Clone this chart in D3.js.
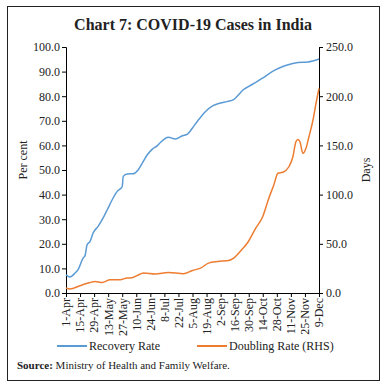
<!DOCTYPE html>
<html>
<head>
<meta charset="utf-8">
<script src="https://cdn.jsdelivr.net/npm/d3@7"></script>
<style>
  body { margin: 0; background: #fff; }
  svg { display: block; font-family: "Liberation Serif", serif; }
</style>
</head>
<body>
<svg id="chart" width="386" height="388"></svg>
<script>
// days counted from 1-Apr-2020
const recoveryDays = [0, 4, 9, 12, 17, 19, 21, 24, 27, 32, 37, 42, 46, 51, 56, 57, 61, 67, 72, 76, 81, 86, 91, 94, 102, 109, 116, 121, 126, 132, 139, 146, 152, 161, 167, 171, 176, 182, 189, 196, 202, 209, 216, 224, 231, 241, 252];
const recoveryRate = [7.4, 6.5, 8.1, 9.5, 14.2, 15.2, 19.6, 21, 24.4, 27.1, 30.5, 34.6, 37.9, 41.3, 43.3, 47.4, 48.4, 48.5, 50.1, 52.8, 56.2, 58.5, 59.9, 61.2, 63.3, 62.6, 63.9, 64.6, 67.1, 70.4, 73.8, 76.1, 77, 77.9, 78.6, 80.2, 82.4, 84, 85.6, 87.4, 89.1, 90.8, 92.1, 93.1, 93.7, 93.9, 95.1];

const doublingDays = [0, 4, 14, 24, 29, 36, 44, 54, 61, 64, 74, 77, 89, 102, 117, 126, 134, 142, 151, 162, 167, 175, 181, 189, 196, 202, 207, 211, 216, 222, 226, 229, 231, 233, 236, 239, 242, 246, 249, 252];
const doublingRate = [5.1, 4.1, 7.4, 10.7, 11.8, 10.7, 13.5, 13.5, 15.2, 15.2, 19.3, 20.3, 19.3, 20.9, 19.6, 22.9, 25.3, 30.4, 32, 33, 35.5, 44, 51.3, 65.9, 77.7, 96.3, 109.8, 121.7, 122.7, 128.3, 138.5, 153.7, 156.1, 153.7, 141.9, 147, 158.8, 175.7, 192.6, 207.8];

const xTickLabels = ['1-Apr', '15-Apr', '29-Apr', '13-May', '27-May', '10-Jun', '24-Jun', '8-Jul', '22-Jul', '5-Aug', '19-Aug', '2-Sep', '16-Sep', '30-Sep', '14-Oct', '28-Oct', '11-Nov', '25-Nov', '9-Dec'];
const leftTicks = [0, 10, 20, 30, 40, 50, 60, 70, 80, 90, 100];
const rightTicks = [0, 50, 100, 150, 200, 250];

const blue = '#5b9bd5';
const orange = '#ed7d31';

const svg = d3.select('#chart');

// frame
svg.append('rect')
  .attr('x', 7.5).attr('y', 6.5)
  .attr('width', 372).attr('height', 374)
  .attr('fill', 'none').attr('stroke', '#222').attr('stroke-width', 1);

svg.append('text')
  .attr('x', 193).attr('y', 30)
  .attr('text-anchor', 'middle')
  .attr('font-size', 16).attr('font-weight', 'bold')
  .attr('fill', '#222')
  .text('Chart 7: COVID-19 Cases in India');

const plotLeft = 66, plotRight = 319, plotTop = 47, plotBottom = 293;

const x = d3.scaleLinear().domain([0, 252]).range([plotLeft, plotRight]);
const yL = d3.scaleLinear().domain([0, 100]).range([plotBottom, plotTop]);
const yR = d3.scaleLinear().domain([0, 250]).range([plotBottom, plotTop]);

const axisStyle = g => {
  g.selectAll('path, line').attr('stroke', '#000');
  g.selectAll('text').attr('fill', '#222').attr('font-size', 12).attr('font-family', '"Liberation Serif", serif');
};

svg.append('g')
  .attr('transform', `translate(${plotLeft},0)`)
  .call(d3.axisLeft(yL).tickValues(leftTicks).tickFormat(d3.format('.1f')).tickSize(4).tickSizeOuter(4).tickPadding(2))
  .call(axisStyle);

svg.append('g')
  .attr('transform', `translate(${plotRight},0)`)
  .call(d3.axisRight(yR).tickValues(rightTicks).tickFormat(d3.format('.1f')).tickSize(4).tickSizeOuter(4).tickPadding(3))
  .call(axisStyle);

const xAxis = svg.append('g')
  .attr('transform', `translate(0,${plotBottom})`)
  .call(d3.axisBottom(x).tickValues(d3.range(0, 253, 14)).tickFormat((d, i) => xTickLabels[i]).tickSize(4).tickSizeOuter(0))
  .call(axisStyle);
xAxis.selectAll('text')
  .attr('transform', 'rotate(-90)')
  .attr('text-anchor', 'end')
  .attr('dy', '0.32em')
  .attr('x', -5).attr('y', 0);

svg.append('text')
  .attr('transform', 'translate(27,160) rotate(-90)')
  .attr('text-anchor', 'middle').attr('font-size', 12).attr('fill', '#222')
  .text('Per cent');

svg.append('text')
  .attr('transform', 'translate(370,170) rotate(-90)')
  .attr('text-anchor', 'middle').attr('font-size', 12).attr('fill', '#222')
  .text('Days');

svg.append('path')
  .datum(d3.zip(recoveryDays, recoveryRate))
  .attr('fill', 'none').attr('stroke', blue).attr('stroke-width', 1.5)
  .attr('d', d3.line().x(d => x(d[0])).y(d => yL(d[1])).curve(d3.curveMonotoneX));

svg.append('path')
  .datum(d3.zip(doublingDays, doublingRate))
  .attr('fill', 'none').attr('stroke', orange).attr('stroke-width', 1.5)
  .attr('d', d3.line().x(d => x(d[0])).y(d => yR(d[1])).curve(d3.curveMonotoneX));

// legend
const legend = [
  { label: 'Recovery Rate', color: blue, x: 57 },
  { label: 'Doubling Rate (RHS)', color: orange, x: 197 }
];
legend.forEach(l => {
  svg.append('line')
    .attr('x1', l.x).attr('x2', l.x + 30)
    .attr('y1', 346).attr('y2', 346)
    .attr('stroke', l.color).attr('stroke-width', 2);
  svg.append('text')
    .attr('x', l.x + 32).attr('y', 350)
    .attr('font-size', 12).attr('fill', '#222')
    .text(l.label);
});

const src = svg.append('text')
  .attr('x', 17).attr('y', 369)
  .attr('font-size', 11).attr('fill', '#222');
src.append('tspan').attr('font-weight', 'bold').text('Source: ');
src.append('tspan').text('Ministry of Health and Family Welfare.');
</script>
</body>
</html>
